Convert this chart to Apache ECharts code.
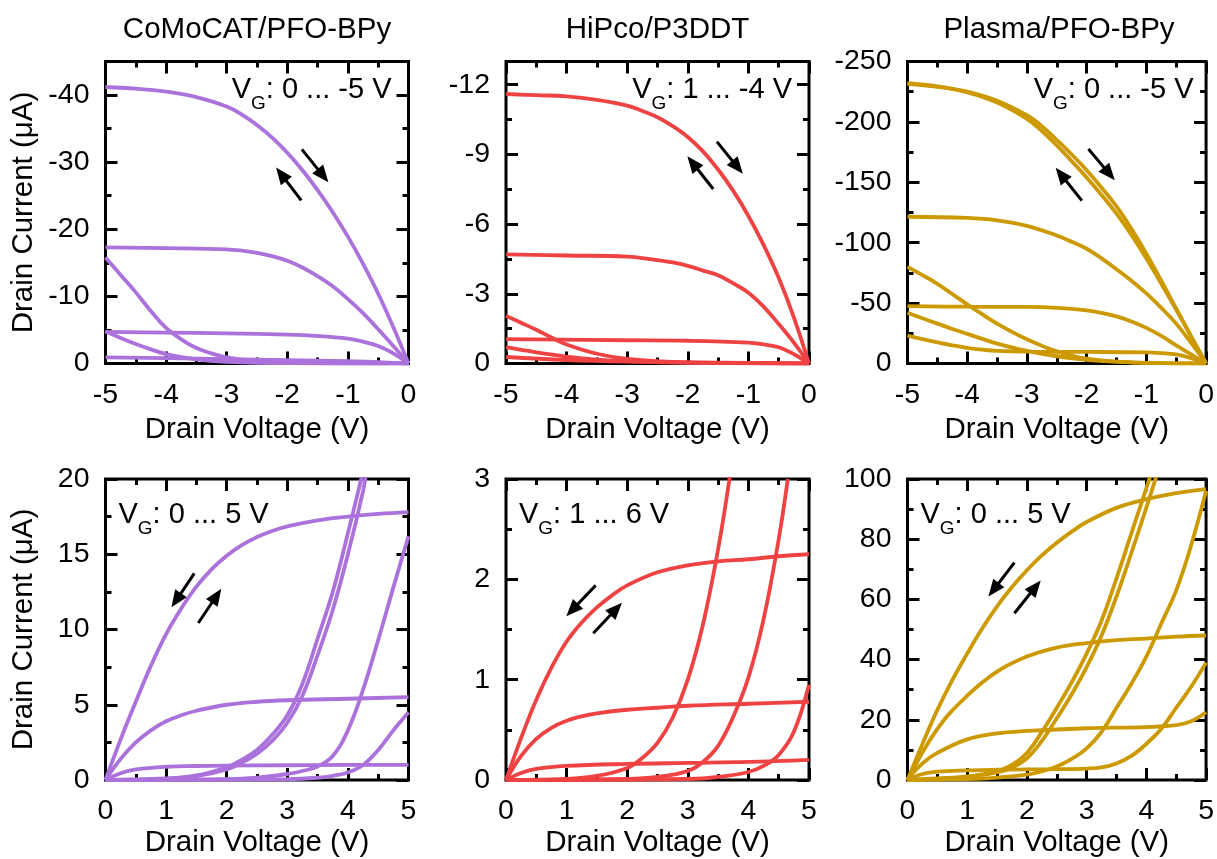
<!DOCTYPE html>
<html>
<head>
<meta charset="utf-8">
<script src="https://cdn.jsdelivr.net/npm/echarts@6/dist/echarts.min.js"></script>
<style>
  html, body { margin: 0; padding: 0; background: #fff; }
  #chart { width: 1217px; height: 859px; }
</style>
</head>
<body>
<div id="chart"></div>
<script>
// ---------- text ----------
const panelTitles = ['CoMoCAT/PFO-BPy', 'HiPco/P3DDT', 'Plasma/PFO-BPy'];
const gateRangeP = ['0 ... -5 V', '1 ... -4 V', '0 ... -5 V'];
const gateRangeN = ['0 ... 5 V', '1 ... 6 V', '0 ... 5 V'];
const xName = 'Drain Voltage (V)';
const yName = 'Drain Current (μA)';

// ---------- tick values ----------
const vdMajorP = [-5, -4, -3, -2, -1, 0];
const vdMinorP = [-4.5, -3.5, -2.5, -1.5, -0.5];
const vdMajorN = [0, 1, 2, 3, 4, 5];
const vdMinorN = [0.5, 1.5, 2.5, 3.5, 4.5];
const idMajor1 = [-40, -30, -20, -10, 0];
const idMinor1 = [-45, -35, -25, -15, -5];
const idMajor2 = [-12, -9, -6, -3, 0];
const idMinor2 = [-10.5, -7.5, -4.5, -1.5];
const idMajor3 = [-250, -200, -150, -100, -50, 0];
const idMinor3 = [-225, -175, -125, -75, -25];
const idMajor4 = [0, 5, 10, 15, 20];
const idMinor4 = [2.5, 7.5, 12.5, 17.5];
const idMajor5 = [0, 1, 2, 3];
const idMinor5 = [0.5, 1.5, 2.5];
const idMajor6 = [0, 20, 40, 60, 80, 100];
const idMinor6 = [10, 30, 50, 70, 90];

// ---------- CoMoCAT/PFO-BPy, p-type sweep (V_D in V, I_D in µA) ----------
const comoP_a = [[-5,-41.2],[-4.5,-40.95],[-4,-40.5],[-3.5,-39.7],[-3,-38.3],[-2.75,-37.1],[-2.5,-35.55],[-2.25,-33.65],[-2,-31.4],[-1.75,-28.8],[-1.5,-25.85],[-1.25,-22.55],[-1,-18.9],[-0.75,-14.85],[-0.5,-10.4],[-0.25,-5.4],[0,0]];
const comoP_b = [[-5,-17.3],[-4,-17.2],[-3,-17.0],[-2.5,-16.5],[-2.25,-16.0],[-2,-15.3],[-1.75,-14.3],[-1.5,-13.0],[-1.25,-11.5],[-1,-9.6],[-0.75,-7.5],[-0.5,-5.1],[-0.25,-2.6],[0,0]];
const comoP_c = [[-5,-4.7],[-4,-4.6],[-3,-4.5],[-2,-4.3],[-1.5,-4.1],[-1,-3.7],[-0.75,-3.25],[-0.5,-2.6],[-0.25,-1.5],[0,0]];
const comoP_d = [[-5,-0.9],[-4,-0.8],[-3,-0.65],[-2,-0.5],[-1,-0.35],[-0.5,-0.2],[0,0]];
const comoP_e = [[-5,-15.8],[-4.75,-13.2],[-4.5,-10.6],[-4.25,-7.8],[-4,-5.3],[-3.75,-3.6],[-3.5,-2.3],[-3.25,-1.5],[-3,-0.9],[-2.5,-0.3],[-2,-0.1],[-1,0],[0,0]];
const comoP_f = [[-5,-4.8],[-4.75,-3.8],[-4.5,-2.9],[-4.25,-2.1],[-4,-1.4],[-3.5,-0.6],[-3,-0.25],[-2,-0.05],[0,0]];

// ---------- HiPco/P3DDT, p-type sweep ----------
const hipP_a = [[-5,-11.6],[-4.5,-11.55],[-4,-11.5],[-3.5,-11.35],[-3,-11.1],[-2.75,-10.87],[-2.5,-10.6],[-2.25,-10.22],[-2,-9.75],[-1.75,-9.13],[-1.5,-8.35],[-1.25,-7.43],[-1,-6.35],[-0.75,-5.11],[-0.5,-3.69],[-0.25,-1.99],[0,0]];
const hipP_b = [[-5,-4.7],[-4,-4.65],[-3,-4.6],[-2.5,-4.45],[-2.25,-4.35],[-2,-4.2],[-1.75,-4.0],[-1.5,-3.8],[-1.25,-3.45],[-1,-3.05],[-0.75,-2.45],[-0.5,-1.7],[-0.25,-0.9],[0,0]];
const hipP_c = [[-5,-1.05],[-3,-1.0],[-2,-0.98],[-1,-0.9],[-0.75,-0.82],[-0.5,-0.7],[-0.25,-0.4],[0,0]];
const hipP_d = [[-5,-2.05],[-4.75,-1.75],[-4.5,-1.45],[-4.25,-1.12],[-4,-0.82],[-3.5,-0.42],[-3,-0.2],[-2,-0.05],[0,0]];
const hipP_e = [[-5,-0.7],[-4.5,-0.48],[-4,-0.3],[-3.5,-0.17],[-3,-0.1],[-2,-0.03],[0,0]];
const hipP_f = [[-5,-0.28],[-4,-0.15],[-3,-0.08],[-2,-0.05],[-1,-0.03],[0,0]];

// ---------- Plasma/PFO-BPy, p-type sweep (forward and reverse of the top trace) ----------
const plaP_a1 = [[-5,-232],[-4.5,-229.5],[-4,-225],[-3.5,-217.5],[-3,-205.5],[-2.75,-196.5],[-2.5,-185],[-2.25,-173],[-2,-160],[-1.75,-145.5],[-1.5,-130],[-1.25,-111.5],[-1,-91],[-0.75,-68.5],[-0.5,-45.5],[-0.25,-22.5],[0,0]];
const plaP_a2 = [[-5,-231.5],[-4.5,-229],[-4,-224.5],[-3.5,-216],[-3,-202.5],[-2.75,-192.5],[-2.5,-180.5],[-2.25,-167.5],[-2,-154],[-1.75,-139.5],[-1.5,-124],[-1.25,-106.5],[-1,-87],[-0.75,-66],[-0.5,-44.5],[-0.25,-22.3],[0,0]];
const plaP_b = [[-5,-121.5],[-4,-120.5],[-3.5,-118.5],[-3,-114],[-2.5,-106],[-2.25,-100.8],[-2,-95],[-1.75,-87],[-1.5,-78],[-1.25,-68.5],[-1,-58],[-0.75,-46],[-0.5,-33],[-0.25,-17],[0,0]];
const plaP_c = [[-5,-47.5],[-4,-47],[-3,-46.8],[-2.5,-46],[-2,-44],[-1.75,-42],[-1.5,-39],[-1.25,-34.8],[-1,-29.5],[-0.75,-22.8],[-0.5,-15],[-0.25,-7.5],[0,0]];
const plaP_d = [[-5,-80],[-4.75,-73.2],[-4.5,-66],[-4.25,-57.5],[-4,-49],[-3.75,-40.8],[-3.5,-33],[-3.25,-26.2],[-3,-20],[-2.75,-14.6],[-2.5,-10],[-2.25,-6.6],[-2,-4],[-1.5,-1.5],[-1,-0.5],[0,0]];
const plaP_e = [[-5,-42],[-4.75,-37.4],[-4.5,-33],[-4.25,-28.6],[-4,-24.5],[-3.5,-16.5],[-3,-10.5],[-2.5,-6],[-2,-3],[-1.5,-1.5],[-1,-0.5],[0,0]];
const plaP_f = [[-5,-23],[-4.75,-20.1],[-4.5,-17.5],[-4.25,-15.1],[-4,-13],[-3.75,-11.5],[-3.5,-10.5],[-3,-9.8],[-2,-9.6],[-1,-9.2],[-0.75,-8.6],[-0.5,-7.5],[-0.25,-4.5],[0,0]];

// ---------- CoMoCAT/PFO-BPy, n-type sweep ----------
const comoN_a = [[0,0],[0.25,2.7],[0.5,5.2],[0.75,7.6],[1,9.7],[1.25,11.4],[1.5,12.85],[1.75,14.0],[2,14.9],[2.25,15.6],[2.5,16.15],[2.75,16.55],[3,16.85],[3.5,17.25],[4,17.5],[4.5,17.68],[5,17.8]];
const comoN_b = [[0,0],[0.25,1.4],[0.5,2.5],[0.75,3.3],[1,3.9],[1.25,4.3],[1.5,4.6],[2,5.0],[2.5,5.2],[3,5.3],[4,5.4],[5,5.5]];
const comoN_c = [[0,0],[0.25,0.45],[0.5,0.7],[1,0.88],[1.5,0.93],[2,0.95],[3,0.98],[4,1.0],[5,1.0]];
const comoN_d1 = [[0,0],[1,0.1],[1.5,0.3],[2,0.85],[2.25,1.35],[2.5,2.0],[2.75,3.0],[3,4.3],[3.25,6.4],[3.5,9.4],[3.75,12.5],[4,16.4],[4.25,20.5]];
const comoN_d2 = [[0,0],[1,0.08],[1.5,0.25],[2,0.7],[2.25,1.15],[2.5,1.75],[2.75,2.6],[3,3.8],[3.25,5.6],[3.5,8.3],[3.75,11.3],[4,15.0],[4.25,19.2],[4.3,20.4]];
const comoN_e = [[0,0],[2,0.05],[2.5,0.15],[3,0.4],[3.25,0.6],[3.5,0.9],[3.75,1.6],[4,3.3],[4.25,6.0],[4.5,9.3],[4.75,12.8],[5,16.2]];
const comoN_f = [[0,0],[3,0.05],[3.5,0.15],[3.75,0.28],[4,0.5],[4.25,1.0],[4.5,2.0],[4.75,3.3],[5,4.5]];

// ---------- HiPco/P3DDT, n-type sweep ----------
const hipN_a = [[0,0],[0.25,0.42],[0.5,0.8],[0.75,1.12],[1,1.38],[1.25,1.57],[1.5,1.72],[1.75,1.84],[2,1.94],[2.5,2.07],[3,2.14],[3.5,2.18],[4,2.2],[4.5,2.23],[5,2.25]];
const hipN_b = [[0,0],[0.25,0.24],[0.5,0.41],[0.75,0.52],[1,0.59],[1.25,0.635],[1.5,0.665],[2,0.7],[2.5,0.72],[3,0.74],[4,0.76],[5,0.78]];
const hipN_c = [[0,0],[0.25,0.07],[0.5,0.11],[1,0.14],[2,0.16],[3,0.17],[4,0.18],[5,0.2]];
const hipN_d = [[0,0],[1,0.01],[1.5,0.04],[2,0.12],[2.25,0.22],[2.5,0.37],[2.75,0.62],[3,1.0],[3.25,1.55],[3.5,2.3],[3.7,3.05]];
const hipN_e = [[0,0],[2,0.01],[2.5,0.03],[3,0.09],[3.25,0.18],[3.5,0.34],[3.75,0.63],[4,1.02],[4.25,1.6],[4.5,2.4],[4.65,3.0]];
const hipN_f = [[0,0],[3,0.01],[3.5,0.03],[4,0.08],[4.25,0.14],[4.5,0.25],[4.75,0.48],[5,0.95]];

// ---------- Plasma/PFO-BPy, n-type sweep ----------
const plaN_a = [[0,0],[0.25,12],[0.5,23.3],[0.75,33.2],[1,42],[1.25,50.3],[1.5,57.7],[1.75,64.1],[2,69.7],[2.25,74.6],[2.5,78.8],[2.75,82.5],[3,85.7],[3.5,90.4],[4,93.3],[4.5,95.3],[5,96.6]];
const plaN_b = [[0,0],[0.5,17],[1,28],[1.5,36],[2,41],[2.5,44],[3,45.5],[3.5,46.5],[4,47],[4.5,47.6],[5,48]];
const plaN_c = [[0,0],[0.25,5.5],[0.5,9],[1,13.5],[1.5,15.5],[2,16.3],[3,17.2],[4,17.6],[4.5,18.2],[4.75,19.5],[5,22.5]];
const plaN_d1 = [[0,0],[0.5,0.5],[1,1.2],[1.5,3],[1.75,5],[2,9],[2.25,16],[2.5,24],[2.75,32.5],[3,42],[3.25,53],[3.5,67],[3.75,82],[4,97],[4.1,103]];
const plaN_d2 = [[0,0],[0.5,0.4],[1,1.0],[1.5,2.5],[1.75,4.1],[2,7.2],[2.25,13],[2.5,20.5],[2.75,28.5],[3,37.5],[3.25,48],[3.5,61],[3.75,75.5],[4,90.5],[4.2,103]];
const plaN_e = [[0,0],[1,0.3],[1.5,0.8],[2,1.8],[2.25,2.9],[2.5,4.5],[2.75,7],[3,10.5],[3.25,16],[3.5,24],[3.75,32],[4,41],[4.25,52],[4.5,63],[4.75,78],[5,96]];
const plaN_f = [[0,0],[0.25,2],[0.5,2.8],[1,3.2],[1.5,3.4],[2,3.5],[2.5,3.6],[3,3.8],[3.25,4.2],[3.5,5.5],[3.75,8],[4,12],[4.25,17],[4.5,24],[4.75,31],[5,39]];

// ---------- sweep-direction arrows: [tail, head] in data units ----------
const arrowsComoP = [[[-1.76,-31.9],[-1.41,-28.0]], [[-1.77,-24.3],[-2.10,-28.2]]];
const arrowsHipP  = [[[-1.52,-9.55],[-1.18,-8.45]], [[-1.58,-7.51],[-1.92,-8.63]]];
const arrowsPlaP  = [[[-1.97,-177.6],[-1.62,-157.0]], [[-2.08,-134.8],[-2.43,-156.5]]];
const arrowsComoN = [[[1.465,13.73],[1.167,11.94]], [[1.531,10.43],[1.833,12.24]]];
const arrowsHipN  = [[[1.48,1.94],[1.092,1.694]], [[1.44,1.462],[1.818,1.705]]];
const arrowsPlaN  = [[[1.79,72.2],[1.442,63.2]], [[1.79,55.4],[2.142,64.1]]];

// ---------- styling ----------
const FONT = "'Liberation Sans', Arial, Helvetica, sans-serif";
const FS_TICK = 28.5;
const FS_NAME = 29.5;
const FS_GATE = 29;
const PURPLE = '#ab72dc';
const RED = '#ef4242';
const GOLD = '#cc9a00';

const colLeft = [105.5, 506, 907.5];
const rowTop = [61.5, 479];
const plotW = 303;
const plotH = [302, 303];

const panels = [
  { col: 0, row: 0, x: [-5, 0, vdMajorP, vdMinorP], y: [-45, 0, idMajor1, idMinor1], inv: true, color: PURPLE,
    curves: [comoP_a, comoP_b, comoP_c, comoP_d, comoP_e, comoP_f], arrows: arrowsComoP },
  { col: 1, row: 0, x: [-5, 0, vdMajorP, vdMinorP], y: [-13, 0, idMajor2, idMinor2], inv: true, color: RED,
    curves: [hipP_a, hipP_b, hipP_c, hipP_d, hipP_e, hipP_f], arrows: arrowsHipP },
  { col: 2, row: 0, x: [-5, 0, vdMajorP, vdMinorP], y: [-250, 0, idMajor3, idMinor3], inv: true, color: GOLD,
    curves: [plaP_a1, plaP_a2, plaP_b, plaP_c, plaP_d, plaP_e, plaP_f], arrows: arrowsPlaP },
  { col: 0, row: 1, x: [0, 5, vdMajorN, vdMinorN], y: [0, 20, idMajor4, idMinor4], inv: false, color: PURPLE,
    curves: [comoN_a, comoN_b, comoN_c, comoN_d1, comoN_d2, comoN_e, comoN_f], arrows: arrowsComoN },
  { col: 1, row: 1, x: [0, 5, vdMajorN, vdMinorN], y: [0, 3, idMajor5, idMinor5], inv: false, color: RED,
    curves: [hipN_a, hipN_b, hipN_c, hipN_d, hipN_e, hipN_f], arrows: arrowsHipN },
  { col: 2, row: 1, x: [0, 5, vdMajorN, vdMinorN], y: [0, 100, idMajor6, idMinor6], inv: false, color: GOLD,
    curves: [plaN_a, plaN_b, plaN_c, plaN_d1, plaN_d2, plaN_e, plaN_f], arrows: arrowsPlaN }
];

const tickText = { fontFamily: FONT, fontSize: FS_TICK, color: '#000' };
const nameText = { fontFamily: FONT, fontSize: FS_NAME, color: '#000' };
const grid = [], xAxis = [], yAxis = [], series = [], graphic = [];

// one axis carrying a set of inward ticks (and optionally the labels)
function tickAxis(base, values, len, labelMargin) {
  return Object.assign({}, base, {
    axisLine: { show: false, onZero: false },
    splitLine: { show: false },
    axisTick: { show: true, inside: true, length: len, customValues: values,
                lineStyle: { color: '#000', width: 3 } },
    axisLabel: labelMargin != null
      ? Object.assign({ show: true, customValues: values, margin: labelMargin }, tickText)
      : { show: false }
  });
}

panels.forEach((p, g) => {
  grid.push({ left: colLeft[p.col], top: rowTop[p.row], width: plotW, height: plotH[p.row],
              show: true, borderColor: '#000', borderWidth: 3, backgroundColor: 'transparent' });

  const xBase = { type: 'value', gridIndex: g, min: p.x[0], max: p.x[1] };
  const yBase = { type: 'value', gridIndex: g, min: p.y[0], max: p.y[1], inverse: p.inv };

  const xi = xAxis.length;
  xAxis.push(Object.assign(tickAxis(Object.assign({ position: 'bottom' }, xBase), p.x[2], 12, 17), {
    name: xName, nameLocation: 'middle', nameGap: p.row === 0 ? 51 : 48, nameTextStyle: nameText }));
  xAxis.push(tickAxis(Object.assign({ position: 'bottom' }, xBase), p.x[3], 6));
  xAxis.push(tickAxis(Object.assign({ position: 'top' }, xBase), p.x[2], 12));
  xAxis.push(tickAxis(Object.assign({ position: 'top' }, xBase), p.x[3], 6));

  const yi = yAxis.length;
  const yMain = tickAxis(Object.assign({ position: 'left' }, yBase), p.y[2], 12, 16);
  if (p.col === 0) {
    Object.assign(yMain, { name: yName, nameLocation: 'middle', nameGap: 67, nameTextStyle: nameText });
  }
  yAxis.push(yMain);
  yAxis.push(tickAxis(Object.assign({ position: 'left' }, yBase), p.y[3], 6));
  yAxis.push(tickAxis(Object.assign({ position: 'right' }, yBase), p.y[2], 12));
  yAxis.push(tickAxis(Object.assign({ position: 'right' }, yBase), p.y[3], 6));

  p.curves.forEach((c, k) => {
    const s = {
      type: 'line', xAxisIndex: xi, yAxisIndex: yi, data: c,
      showSymbol: false, smooth: 0.4, clip: true,
      lineStyle: { color: p.color, width: 3.8 }, silent: true, z: 3
    };
    if (k === 0) {
      s.markLine = {
        silent: true, animation: false,
        symbol: ['none', 'triangle'], symbolSize: [14, 17],
        label: { show: false },
        lineStyle: { color: '#000', width: 3, type: 'solid' },
        itemStyle: { color: '#000' },
        emphasis: { disabled: true },
        data: p.arrows.map(a => [{ coord: a[0] }, { coord: a[1] }])
      };
    }
    series.push(s);
  });

  // device title above the top row
  if (p.row === 0) {
    graphic.push({ type: 'text', x: colLeft[p.col] + plotW / 2, y: 29.6, silent: true,
      style: { text: panelTitles[p.col], fill: '#000', font: `${FS_NAME}px ${FONT}`, align: 'center', verticalAlign: 'middle' } });
  }
  // gate-voltage range, V with subscript G
  const rich = {
    v: { fontFamily: FONT, fontSize: FS_GATE, fill: '#000' },
    s: { fontFamily: FONT, fontSize: 19, fill: '#000', padding: [27, 0, 0, 0] }
  };
  const label = '{v|V}{s|G}{v|: ' + (p.row === 0 ? gateRangeP[p.col] : gateRangeN[p.col]) + '}';
  if (p.row === 0) {
    graphic.push({ type: 'text', x: colLeft[p.col] + plotW - 17, y: 67.1, silent: true, z: 10,
      style: { text: label, rich, align: 'right', verticalAlign: 'top', fill: '#000' } });
  } else {
    graphic.push({ type: 'text', x: colLeft[p.col] + 13, y: 492.1, silent: true, z: 10,
      style: { text: label, rich, align: 'left', verticalAlign: 'top', fill: '#000' } });
  }
});

const chart = echarts.init(document.getElementById('chart'), null, { renderer: 'canvas' });
chart.setOption({
  animation: false,
  backgroundColor: '#fff',
  grid, xAxis, yAxis, series, graphic
});
</script>
</body>
</html>
